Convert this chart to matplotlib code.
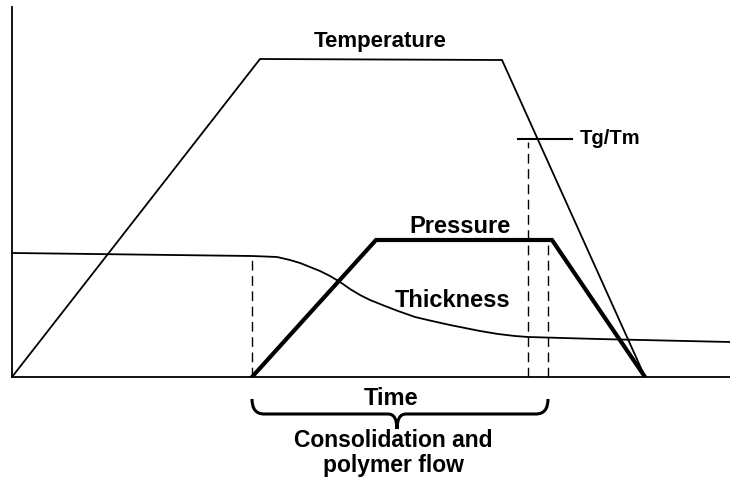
import matplotlib
matplotlib.use("Agg")
import matplotlib.pyplot as plt
from matplotlib.path import Path
from matplotlib.patches import PathPatch

plt.rcParams['font.family'] = ['Liberation Sans', 'DejaVu Sans']

# schematic curves (time units, height above baseline)
temp_t = [0, 248, 490, 633]
temp_v = [0, 318, 317, 0]

press_t = [240, 364, 540, 633]
press_v = [0, 137, 137, 0]

thick_t = [1, 240, 253, 265, 278, 288, 298, 308, 318, 328, 338, 348, 358, 373,
           386, 403, 420, 438, 453, 468, 486, 503, 516, 586, 718]
thick_v = [124, 121, 120.5, 120, 117, 114, 110, 106, 101, 95, 88, 82, 77, 71,
           66, 60, 56, 52, 49, 46, 43, 41, 40, 38, 35]

# markers for start of consolidation, Tg/Tm and pressure release
t_start = 240
t_tg = 516
t_release = 536
tg_level = 238

fig = plt.figure(figsize=(7.3, 4.89), dpi=100)
ax = fig.add_axes([12 / 730, (489 - 378) / 489, 718 / 730, (378 - 8) / 489])

ax.plot(temp_t, temp_v, color='black', lw=1.3, solid_joinstyle='miter')
ax.plot(press_t, press_v, color='black', lw=3.0, solid_joinstyle='miter')
ax.plot(thick_t, thick_v, color='black', lw=1.3, solid_joinstyle='round')

# dashed markers
dash = dict(color='black', lw=1.0, ls=(0, (7, 4)))
ax.plot([t_start, t_start], [0, thick_v[1]], **dash)
ax.plot([t_tg, t_tg], [0, tg_level - 3], **dash)
ax.plot([t_release, t_release], [0, press_v[2]], **dash)

# Tg/Tm tick
ax.plot([t_tg - 10, t_tg + 44], [tg_level, tg_level], color='black', lw=1.5)

ax.set_xlim(0, 718)
ax.set_ylim(0, 370)
ax.set_xticks([])
ax.set_yticks([])
for s in ['top', 'right']:
    ax.spines[s].set_visible(False)
for s in ['left', 'bottom']:
    ax.spines[s].set_linewidth(1.3)

fs = 17
ax.text(368, 331, 'Temperature', ha='center', va='baseline', fontsize=16, fontweight='bold')
ax.text(448, 145, 'Pressure', ha='center', va='baseline', fontsize=fs, fontweight='bold')
ax.text(441, 71, 'Thickness', ha='center', va='baseline', fontsize=fs, fontweight='bold')
ax.text(568, 234, 'Tg/Tm', ha='left', va='baseline', fontsize=14.5, fontweight='bold')
ax.text(379, -27, 'Time', ha='center', va='baseline', fontsize=fs, fontweight='bold', clip_on=False)
ax.text(381, -69, 'Consolidation and', ha='center', va='baseline',
        fontsize=16.5, fontweight='bold', clip_on=False)
ax.text(381, -94, 'polymer flow', ha='center', va='baseline',
        fontsize=16.5, fontweight='bold', clip_on=False)

# curly brace under the consolidation interval
tip = 385
y_end, y_mid, y_tip = -22, -37, -52
verts = [(t_start, y_end), (t_start, y_mid), (t_start + 12, y_mid),
         (tip - 9, y_mid), (tip, y_mid), (tip, y_tip),
         (tip, y_mid), (tip + 9, y_mid),
         (t_release - 12, y_mid), (t_release, y_mid), (t_release, y_end)]
codes = [Path.MOVETO, Path.CURVE3, Path.CURVE3,
         Path.LINETO, Path.CURVE3, Path.CURVE3,
         Path.CURVE3, Path.CURVE3,
         Path.LINETO, Path.CURVE3, Path.CURVE3]
ax.add_patch(PathPatch(Path(verts, codes), fill=False, lw=2.2, color='black', clip_on=False))

fig.savefig('out.png', dpi=100)
